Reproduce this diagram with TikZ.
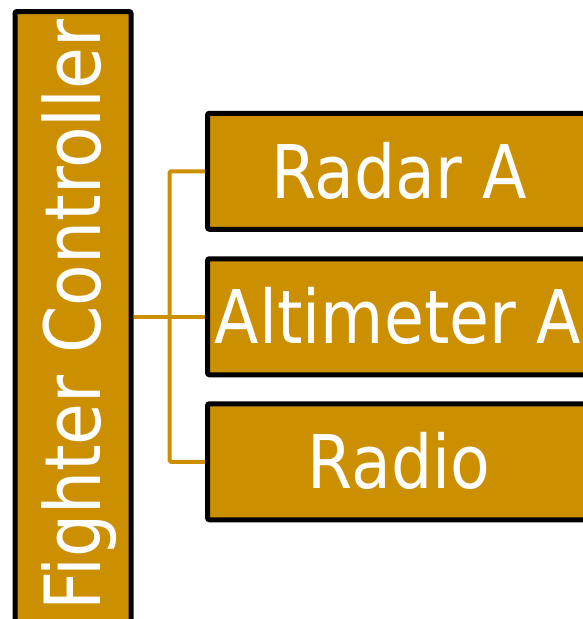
\documentclass[tikz,border=0pt]{standalone}
\usepackage{fontspec}
\newfontfamily\boxfont[FakeStretch=0.975]{DejaVu Sans Condensed}
\definecolor{gold}{RGB}{204,143,0}
\begin{document}
\begin{tikzpicture}[x=1pt,y=-1pt,
  unit/.style={draw=black,line width=5pt,fill=gold,rounded corners=2pt,inner sep=0pt},
  caption/.style={text=white,inner sep=0pt,font=\boxfont\fontsize{74}{74}\selectfont},
  link/.style={draw=gold,line width=4pt,rounded corners=1.5pt}]
\useasboundingbox (0,0) rectangle (583,619);
\clip (0,0) rectangle (583,619);

% controller column on the left
\node[unit,minimum width=116pt,minimum height=618pt] (ctrl) at (73,320.5) {};
\node[caption,rotate=90,anchor=base,font=\boxfont\fontsize{77.5}{77.5}\selectfont] (ctrltxt) at (100.5,315) {Fighter Controller};

% subsystem boxes
\node[unit,minimum width=383.5pt,minimum height=116pt] (radar) at (399.25,171.25) {};
\node[unit,minimum width=383.5pt,minimum height=116pt] (alt)   at (399.25,316.75) {};
\node[unit,minimum width=383.5pt,minimum height=116pt] (radio) at (399.25,461.75) {};
\node[caption,anchor=base] (radartxt) at (399,198.25) {Radar A};
\node[caption,anchor=base] (alttxt)   at (398,343.75) {Altimeter A};
\node[caption,anchor=base] (radiotxt) at (399,488.75) {Radio};

% connecting bus
\draw[link] (radar.west) -- ++(-35.5,0) |- (radio.west);
\draw[link] (ctrl.east |- alt.west) -- (alt.west);
\end{tikzpicture}
\end{document}
